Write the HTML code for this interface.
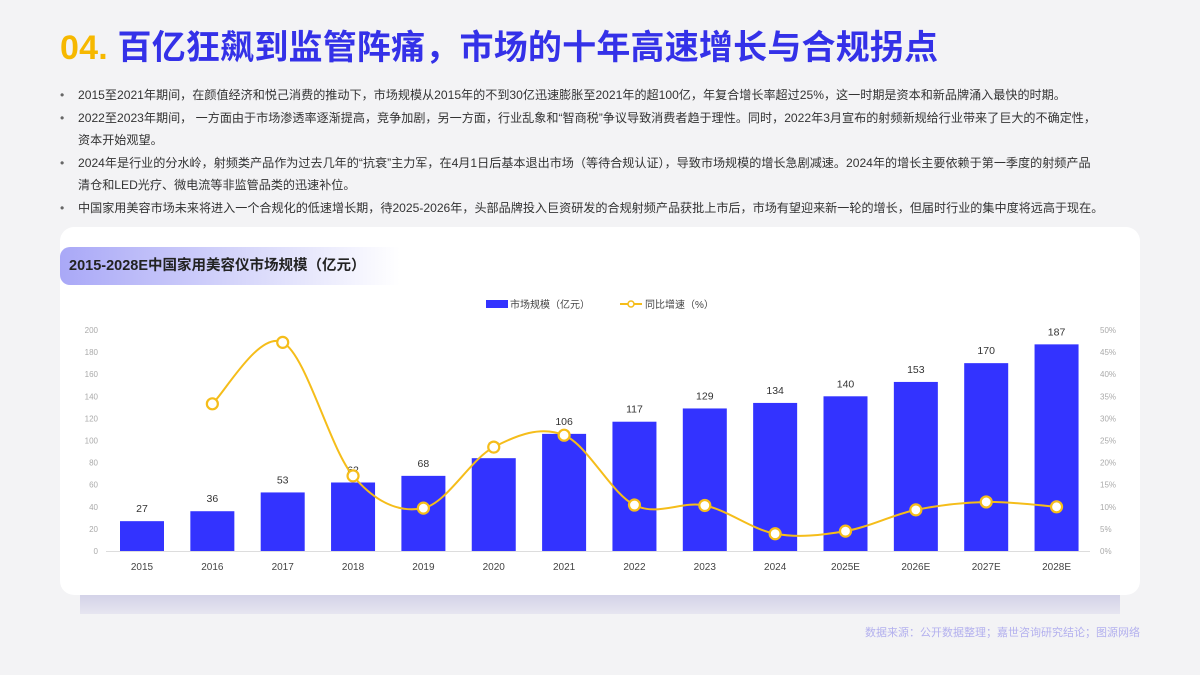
<!DOCTYPE html>
<html><head><meta charset="utf-8">
<style>
body{margin:0;width:1200px;height:675px;background:#f3f3f5;font-family:"Liberation Sans","Noto Sans CJK SC",sans-serif;position:relative;overflow:hidden}
.title{position:absolute;left:60px;top:20px;font-size:34px;font-weight:bold;color:#3431e8;letter-spacing:0.2px;white-space:nowrap}
.title span{color:#f6b800}
ul{position:absolute;left:60px;top:84px;margin:0;padding:0;list-style:none;width:1085px}
li{position:relative;padding-left:18px;font-size:12.1px;line-height:22.5px;color:#333}
li:before{content:"•";position:absolute;left:0;color:#666}
.shadow{position:absolute;left:80px;top:590px;width:1040px;height:24px;background:linear-gradient(#cfcde6,#e6e5f0)}
.card{position:absolute;left:60px;top:227px;width:1080px;height:368px;background:#fff;border-radius:14px}
.pill{position:absolute;left:60px;top:247px;width:340px;height:38px;border-radius:10px 0 0 10px;background:linear-gradient(90deg,#a9a8f7,#dcdcfb 60%,rgba(255,255,255,0));font-size:14.5px;font-weight:bold;color:#222;line-height:38px;padding-left:9px;box-sizing:border-box;white-space:nowrap}
.src{position:absolute;right:60px;top:624px;font-size:11px;color:#b3b0ee}
svg{position:absolute;left:0;top:0}
</style></head><body>
<div class="title"><span>04.</span> 百亿狂飙到监管阵痛，市场的十年高速增长与合规拐点</div>
<ul>
<li>2015至2021年期间，在颜值经济和悦己消费的推动下，市场规模从2015年的不到30亿迅速膨胀至2021年的超100亿，年复合增长率超过25%，这一时期是资本和新品牌涌入最快的时期。</li>
<li>2022至2023年期间， 一方面由于市场渗透率逐渐提高，竞争加剧，另一方面，行业乱象和“智商税”争议导致消费者趋于理性。同时，2022年3月宣布的射频新规给行业带来了巨大的不确定性，<br>资本开始观望。</li>
<li>2024年是行业的分水岭，射频类产品作为过去几年的“抗衰”主力军，在4月1日后基本退出市场（等待合规认证），导致市场规模的增长急剧减速。2024年的增长主要依赖于第一季度的射频产品<br>清仓和LED光疗、微电流等非监管品类的迅速补位。</li>
<li>中国家用美容市场未来将进入一个合规化的低速增长期，待2025-2026年，头部品牌投入巨资研发的合规射频产品获批上市后，市场有望迎来新一轮的增长，但届时行业的集中度将远高于现在。</li>
</ul>
<div class="shadow"></div>
<div class="card"></div>
<div class="pill">2015-2028E中国家用美容仪市场规模（亿元）</div>
<div class="src">数据来源：公开数据整理；嘉世咨询研究结论；图源网络</div>
<svg id="chart" width="1200" height="675"></svg>
<script>
const categories=["2015","2016","2017","2018","2019","2020","2021","2022","2023","2024","2025E","2026E","2027E","2028E"];
const marketSize=[27,36,53,62,68,84,106,117,129,134,140,153,170,187];
const growth=[null,33.3,47.2,17.0,9.7,23.5,26.2,10.4,10.3,3.9,4.5,9.3,11.1,10.0];
const leftTicks=[0,20,40,60,80,100,120,140,160,180,200];
const rightTicks=[0,5,10,15,20,25,30,35,40,45,50];
const NS="http://www.w3.org/2000/svg";
const svg=document.getElementById('chart');
const x0=142,step=70.35,base=551,ph=221,bw=44;
const xs=i=>x0+i*step;
const yL=v=>base-v/200*ph;
const yR=v=>base-v/50*ph;
function mk(t,a,txt){const e=document.createElementNS(NS,t);for(const k in a)e.setAttribute(k,a[k]);if(txt!==undefined)e.textContent=txt;svg.appendChild(e);return e;}
leftTicks.forEach(v=>{const e=mk('text',{x:98,y:yL(v)+3,'text-anchor':'end','font-size':8,fill:'#aaa'},v);

});
rightTicks.forEach(v=>{const e=mk('text',{x:1100,y:yR(v)+3,'font-size':8,fill:'#aaa'},v+'%');

});
const ax=mk('line',{x1:106,x2:1090,y1:base+0.5,y2:base+0.5,stroke:'#ddd'});


categories.forEach((c,i)=>{
const r=mk('rect',{x:xs(i)-bw/2,y:yL(marketSize[i]),width:bw,height:base-yL(marketSize[i]),fill:'#3333ff'});


const l=mk('text',{x:xs(i),y:yL(marketSize[i])-9,'text-anchor':'middle','font-size':10.5,fill:'#333'},marketSize[i]);


const t=mk('text',{x:xs(i),y:570,'text-anchor':'middle','font-size':10,fill:'#444'},c);


});
const pts=[];growth.forEach((g,i)=>{if(g!==null)pts.push([xs(i),yR(g)]);});
let d='M'+pts[0][0]+','+pts[0][1];
for(let i=0;i<pts.length-1;i++){const p0=pts[i-1]||pts[i],p1=pts[i],p2=pts[i+1],p3=pts[i+2]||p2;
const c1=[p1[0]+(p2[0]-p0[0])/6,p1[1]+(p2[1]-p0[1])/6],c2=[p2[0]-(p3[0]-p1[0])/6,p2[1]-(p3[1]-p1[1])/6];
d+=' C'+c1+' '+c2+' '+p2;}
const ln=mk('path',{d:d,fill:'none',stroke:'#f5bd1a','stroke-width':2});


pts.forEach(p=>{const c=mk('circle',{cx:p[0],cy:p[1],r:5.5,fill:'#fff',stroke:'#f5bd1a','stroke-width':2.2});

});
const lg1=mk('rect',{x:486,y:300,width:22,height:8,fill:'#3333ff'});


mk('text',{x:510,y:308,'font-size':10,fill:'#444'},'市场规模（亿元）');
const lg2=mk('line',{x1:620,x2:642,y1:304,y2:304,stroke:'#f5bd1a','stroke-width':2});


mk('circle',{cx:631,cy:304,r:3,fill:'#fff',stroke:'#f5bd1a','stroke-width':1.5});
mk('text',{x:645,y:308,'font-size':10,fill:'#444'},'同比增速（%）');
</script>
</body></html>
